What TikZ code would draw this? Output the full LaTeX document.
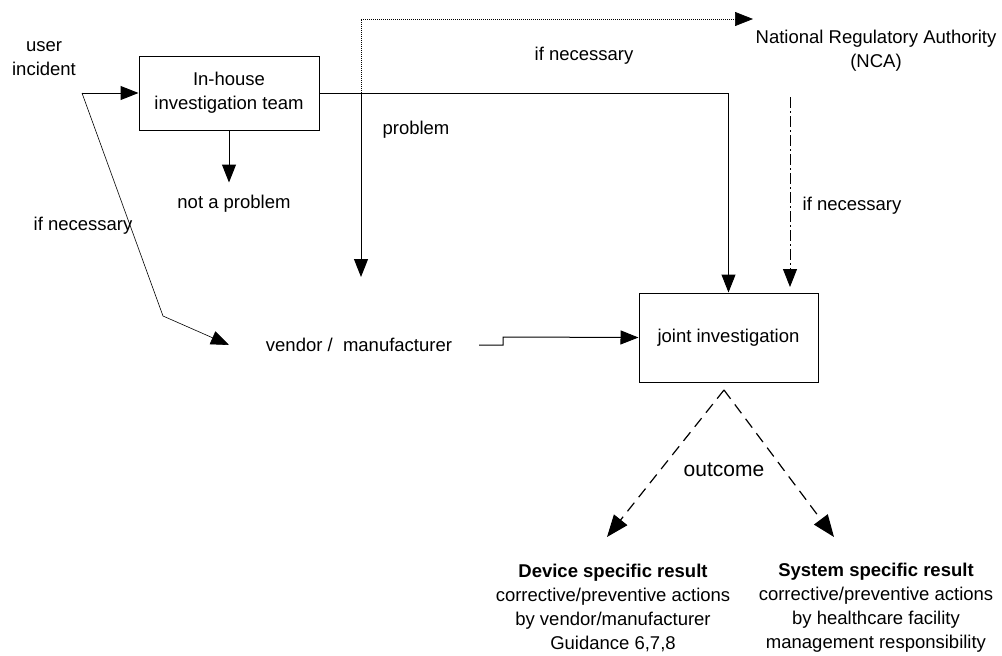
\documentclass[tikz,border=0pt]{standalone}
\usepackage{fontspec}
\setmainfont{Liberation Sans}
\usetikzlibrary{arrows.meta}
\begin{document}
\begin{tikzpicture}[x=1pt,y=-1pt,
  every node/.style={font=\fontsize{18.5}{24}\selectfont, align=center, inner sep=0pt},
  box/.style={draw, line width=1pt, inner sep=0pt},
  conn/.style={line width=1pt},
  tip/.style={-{Triangle[length=18pt,width=14pt]}},
  arr/.style={conn, tip},
  thinarr/.style={line width=0.6pt, tip},
  dotline/.style={line width=0.7pt, dash pattern=on 1pt off 1pt, tip},
  dashdot/.style={line width=0.8pt, dash pattern=on 11pt off 3pt on 2pt off 3pt, tip},
  dasharr/.style={line width=1.2pt, dash pattern=on 11pt off 7pt, -{Triangle[length=22pt,width=17pt]}}
]
\useasboundingbox (0,0) rectangle (1002,656);
\fill[white] (0,0) rectangle (1002,656);

% nodes
\node (user) at (44,58.5) {user\\incident};
\node[box, minimum width=180pt, minimum height=74pt] (inhouse) at (229,93) {In-house\\investigation team};
\node (notprob) at (234,204) {not a problem};
\node (ifnecL) at (83,226) {if necessary};
\node (problem) at (416,130) {problem};
\node (ifnecT) at (584,56) {if necessary};
\node (nca) at (876,51) {National Regulatory Authority\\(NCA)};
\node (ifnecR) at (852,206) {if necessary};
\node (vendor) at (359,345) {vendor /\ \ manufacturer};
\node[box, minimum width=179pt, minimum height=89pt] (joint) at (728.5,337.5) {joint investigation};
\node[font=\fontsize{21}{24}\selectfont] (outcome) at (724,470) {outcome};
\node (device) at (613,607.5) {\textbf{Device specific result}\\corrective/preventive actions\\by vendor/manufacturer\\Guidance 6,7,8};
\node (system) at (876,607.5) {\textbf{System specific result}\\corrective/preventive actions\\by healthcare facility\\management responsibility};

% coordinates
\coordinate (split) at (82,93);
\coordinate (bend) at (163,316);
\coordinate (vin) at (229,345);
\coordinate (branch) at (361,93);
\coordinate (probtip) at (361,277);
\coordinate (ncain) at (753,19);
\coordinate (ncaout) at (790,97);
\coordinate (jointtopR) at (790,287);
\coordinate (vout) at (479,345);
\coordinate (apex) at (724,390);
\coordinate (devtip) at (607,537);
\coordinate (systip) at (834,537);

% connectors
\draw[arr] (split) -- (inhouse.west);
\draw[thinarr] (split) -- (bend) -- (vin);
\draw[arr] (inhouse.south) -- ++(0,52);
\draw[arr] (inhouse.east) -| (joint.north);
\draw[arr] (branch) -- (probtip);
\draw[dotline] (branch) |- (ncain);
\draw[dashdot] (ncaout) -- (jointtopR);
\draw[arr] (vout) -- ++(24,0) -- ++(0,-8) -- (joint.west);
\draw[dasharr] (apex) -- (devtip);
\draw[dasharr] (apex) -- (systip);
\end{tikzpicture}
\end{document}
